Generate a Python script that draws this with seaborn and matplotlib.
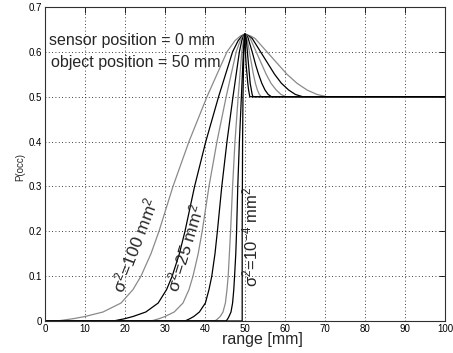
import matplotlib
matplotlib.use("Agg")
import matplotlib.pyplot as plt
import pandas as pd
import seaborn as sns

# P(occ) levels
rise_levels = [0, 0.005, 0.01, 0.02, 0.04, 0.07, 0.1, 0.15, 0.2, 0.3, 0.4, 0.5, 0.6, 0.625, 0.635, 0.64]
fall_levels = [0.64, 0.635, 0.63, 0.6, 0.57, 0.55, 0.53, 0.515, 0.505, 0.5]

# range [mm] where each curve reaches those levels (rising side)
rise_100 = [3, 7, 10, 14.5, 19, 22, 24, 26.5, 28.5, 32, 36, 40.5, 45.5, 47.5, 48.8, 50]
rise_50 = [17.1, 19.9, 22, 25.2, 28.3, 30.4, 31.8, 33.6, 35, 37.4, 40.2, 43.4, 46.9, 48.3, 49.2, 50]
rise_25 = [26.5, 28.5, 30, 32.3, 34.5, 36, 37, 38.3, 39.3, 41, 43, 45.3, 47.8, 48.8, 49.4, 50]
rise_10 = [35, 36.2, 37.2, 38.6, 40.1, 41, 41.7, 42.5, 43.1, 44.2, 45.5, 47, 48.6, 49.2, 49.6, 50]
rise_4 = [42.5, 43.2, 43.8, 44.5, 45.1, 45.5, 45.8, 46.1, 46.4, 46.9, 47.5, 48.3, 49.2, 49.6, 49.8, 50]
rise_1 = [45.3, 45.7, 46, 46.5, 46.9, 47.2, 47.4, 47.7, 47.9, 48.2, 48.6, 49.1, 49.6, 49.8, 49.9, 50]
rise_1e4 = [49.3, 49.3, 49.3, 49.3, 49.3, 49.3, 49.3, 49.3, 49.3, 49.35, 49.4, 49.5, 49.7, 49.85, 49.95, 50]

# falling side
fall_100 = [50, 51.5, 52.5, 55.5, 58.5, 60.5, 63, 65.5, 68, 70.5]
fall_50 = [50, 51.0, 51.8, 53.9, 56, 57.4, 59.1, 60.9, 62.6, 64.4]
fall_25 = [50, 50.7, 51.3, 52.8, 54.3, 55.3, 56.5, 57.8, 59, 60.3]
fall_10 = [50, 50.5, 50.8, 51.8, 52.7, 53.4, 54.2, 55, 55.8, 56.6]
fall_4 = [50, 50.3, 50.5, 51.1, 51.7, 52.1, 52.6, 53.1, 53.6, 54.1]
fall_1 = [50, 50.15, 50.3, 50.6, 50.9, 51.1, 51.3, 51.6, 51.8, 52]
fall_1e4 = [50, 50.03, 50.05, 50.1, 50.3, 50.5, 50.7, 50.9, 51.1, 51.2]

curve_names = ["100", "50", "25", "10", "4", "1", "1e-4"]
rises = [rise_100, rise_50, rise_25, rise_10, rise_4, rise_1, rise_1e4]
falls = [fall_100, fall_50, fall_25, fall_10, fall_4, fall_1, fall_1e4]
line_colors = ["#8a8a8a", "#000000", "#8a8a8a", "#000000", "#8a8a8a", "#000000", "#000000"]

rows = []
for name, rx, fx in zip(curve_names, rises, falls):
    xs = [0] + rx + fx[1:] + [100]
    ys = [0] + rise_levels + fall_levels[1:] + [0.5]
    for i, (x, y) in enumerate(zip(xs, ys)):
        rows.append({"curve": name, "order": i, "range": x, "p": y})
df = pd.DataFrame(rows)

sns.set_style("white")
plt.rcParams["font.family"] = ["Liberation Sans", "DejaVu Sans"]
plt.rcParams["mathtext.fontset"] = "custom"
plt.rcParams["mathtext.rm"] = "Liberation Sans"
plt.rcParams["mathtext.it"] = "Liberation Sans"

fig = plt.figure(figsize=(4.53, 3.53), dpi=100)
ax = fig.add_axes([0.0993, 0.0907, 0.8830, 0.8895])

sns.lineplot(data=df, x="range", y="p", hue="curve", hue_order=curve_names,
             palette=line_colors, sort=False, estimator=None, legend=False,
             linewidth=0.9, ax=ax)

ax.set_xlim(0, 100)
ax.set_ylim(0, 0.7)
ax.set_xticks(range(0, 101, 10))
ax.set_yticks([0, 0.1, 0.2, 0.3, 0.4, 0.5, 0.6, 0.7])
ax.set_yticklabels(["0", "0.1", "0.2", "0.3", "0.4", "0.5", "0.6", "0.7"])
ax.tick_params(direction="in", length=4, width=0.6, labelsize=7, pad=2,
               top=True, right=True, colors="black")
ax.grid(True, color="black", linestyle=(0, (1, 3)), linewidth=0.6)
for sp in ax.spines.values():
    sp.set_color("#303030")
    sp.set_linewidth(0.8)

ax.set_xlabel("range [mm]", fontsize=11.5)
ax.xaxis.set_label_coords(0.5425, -0.036)
ax.set_ylabel("P(occ)", fontsize=7)
ax.yaxis.set_label_coords(-0.05, 0.49)

ax.text(1, 0.626, "sensor position = 0 mm", fontsize=11.5, va="center")
ax.text(1.5, 0.577, "object position = 50 mm", fontsize=11.5, va="center")

ax.text(22.5, 0.169, r"$\sigma^2$=100 mm$^2$", fontsize=12.5, rotation=69,
        ha="center", va="center", rotation_mode="anchor")
ax.text(35, 0.163, r"$\sigma^2$=25 mm$^2$", fontsize=12.5, rotation=73,
        ha="center", va="center", rotation_mode="anchor")
ax.text(51.4, 0.188, r"$\sigma^2$=10$^{-4}$ mm$^2$", fontsize=12, rotation=90,
        ha="center", va="center", rotation_mode="anchor")

fig.savefig("out.png", dpi=100)
